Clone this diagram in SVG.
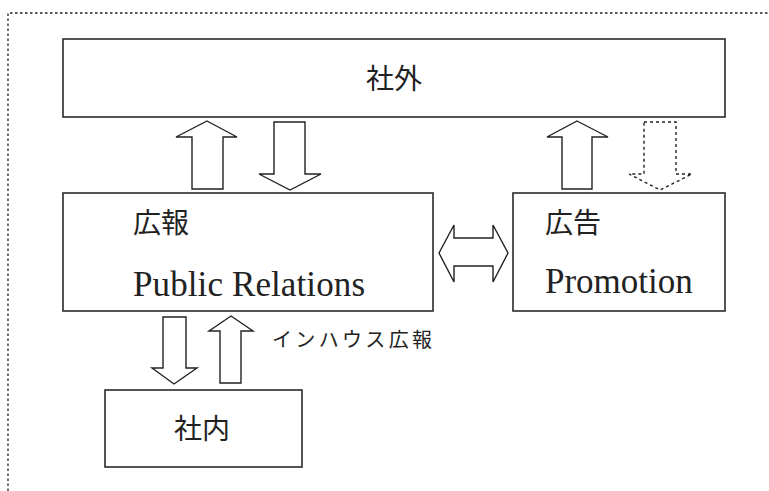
<svg xmlns="http://www.w3.org/2000/svg" width="769" height="491" viewBox="0 0 769 491">
<style>
.box{fill:#fff;stroke:#2a2a2a;stroke-width:1.6}
.arr{fill:#fff;stroke:#222;stroke-width:1.4;stroke-linejoin:miter}
.darr{fill:#fff;stroke:#222;stroke-width:1.4;stroke-dasharray:3 3}
.frame{fill:none;stroke:#222;stroke-width:1.3;stroke-dasharray:2.5 2.5}
.jp{font-family:"Liberation Serif","Noto Sans CJK JP",serif;font-size:28px;fill:#222}
.en{font-family:"Liberation Serif","Noto Sans CJK JP",serif;font-size:35px;fill:#222}
.sm{font-family:"Liberation Serif","Noto Sans CJK JP",serif;font-size:20px;fill:#222}
</style>
<rect width="769" height="491" fill="#fff"/>
<path class="frame" d="M8 491 V13 H769"/>
<g id="shagai">
<rect class="box" x="63" y="39" width="662" height="78"/>
<text class="jp" x="394" y="89" text-anchor="middle">社外</text>
</g>
<g id="pr">
<rect class="box" x="63" y="193" width="370" height="118"/>
<text class="jp" x="133" y="233">広報</text>
<text class="en" x="133" y="296" textLength="232" lengthAdjust="spacing">Public Relations</text>
</g>
<g id="promotion">
<rect class="box" x="513" y="193" width="212" height="118"/>
<text class="jp" x="545" y="233">広告</text>
<text class="en" x="545" y="293">Promotion</text>
</g>
<g id="shanai">
<rect class="box" x="105" y="390" width="197" height="77"/>
<text class="jp" x="202" y="439" text-anchor="middle">社内</text>
</g>
<g id="connectors">
<polygon class="arr" points="207,121 237,137 223,137 223,189 192,189 192,137 176,137"/>
<polygon class="arr" points="274,122 305,122 305,174 321,174 290,190 259,174 274,174"/>
<polygon class="arr" points="577,121 608,137 592,137 592,189 562,189 562,137 547,137"/>
<polygon class="darr" points="644,122 676,122 676,174 692,174 660,190 629,174 644,174"/>
<polygon class="arr" points="439,253 454,225 454,238 493,238 493,225 508,253 493,282 493,266 454,266 454,282"/>
<polygon class="arr" points="163,317 186,317 186,368 197,368 174,384 152,368 163,368"/>
<polygon class="arr" points="231,316 253,331 241,331 241,383 220,383 220,331 209,331"/>
<text class="sm" x="272" y="347" textLength="160" lengthAdjust="spacing">インハウス広報</text>
</g>
</svg>
